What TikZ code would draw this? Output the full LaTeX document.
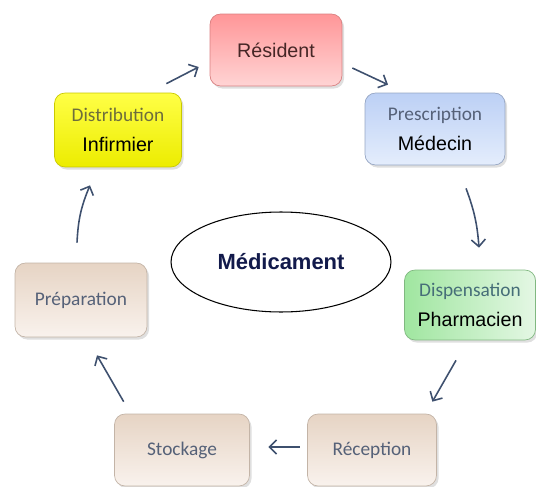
\documentclass[tikz,border=0pt]{standalone}
\usepackage{fontspec}
\setmainfont{Carlito}
\newfontfamily\medfont{Liberation Sans}
\usetikzlibrary{calc,shadows,arrows.meta,shapes.geometric}

\definecolor{arrowblue}{RGB}{62,80,110}
\definecolor{pinktop}{RGB}{255,150,152}
\definecolor{pinkbot}{RGB}{255,212,212}
\definecolor{bluetop}{RGB}{188,208,245}
\definecolor{bluebot}{RGB}{228,237,252}
\definecolor{greenleft}{RGB}{160,230,160}
\definecolor{greenright}{RGB}{228,247,228}
\definecolor{yellowtop}{RGB}{255,255,70}
\definecolor{yellowbot}{RGB}{236,236,0}
\definecolor{beigetop}{RGB}{230,212,196}
\definecolor{beigebot}{RGB}{249,242,237}
\definecolor{subgrey}{RGB}{85,97,120}
\definecolor{subteal}{RGB}{70,110,120}
\definecolor{subolive}{RGB}{110,110,60}
\definecolor{restext}{RGB}{70,38,38}
\definecolor{navy}{RGB}{18,26,75}

\tikzset{
  stage/.style={rectangle, rounded corners=6pt, minimum height=1.44cm, align=center,
    inner sep=2pt, draw=#1, line width=0.4pt,
    drop shadow={opacity=0.25, shadow xshift=1.2pt, shadow yshift=-1.5pt},
    font=\medfont\fontsize{11.2}{17.5}\selectfont},
  flow/.style={draw=arrowblue, line width=0.9pt, -{Straight Barb[length=4pt,width=8pt]}},
}
\newcommand{\sublabel}[2]{{\rmfamily\fontsize{11}{13}\selectfont\color{#1}#2}}

\begin{document}
\begin{tikzpicture}[x=0.02cm, y=-0.02cm]
  \useasboundingbox (0,0) rectangle (536,486);

  % the cycle of stages
  \node[stage=pinktop!85!black, top color=pinktop, bottom color=pinkbot, minimum width=2.64cm,
    text=restext] (res) at (276,50) {Résident};
  \node[stage=bluetop!80!black, top color=bluetop, bottom color=bluebot, minimum width=2.80cm] (pre) at (435,129)
    {\sublabel{subgrey}{Prescription}\\ Médecin};
  \node[stage=greenleft!80!black, left color=greenleft, right color=greenright, minimum width=2.62cm,
    minimum height=1.40cm] (dsp) at (470,305)
    {\sublabel{subteal}{Dispensation}\\ Pharmacien};
  \node[stage=yellowbot!85!black, top color=yellowtop, bottom color=yellowbot, minimum width=2.54cm,
    minimum height=1.48cm] (dist) at (118,130)
    {\sublabel{subolive}{Distribution}\\ Infirmier};
  \node[stage=beigetop!85!black, top color=beigetop, bottom color=beigebot, minimum width=2.64cm,
    minimum height=1.48cm] (prep) at (81,300) {\sublabel{subgrey}{Préparation}};
  \node[stage=beigetop!85!black, top color=beigetop, bottom color=beigebot, minimum width=2.70cm] (sto) at (182,450)
    {\sublabel{subgrey}{Stockage}};
  \node[stage=beigetop!85!black, top color=beigetop, bottom color=beigebot, minimum width=2.58cm] (rec) at (372,450)
    {\sublabel{subgrey}{Réception}};

  % centre
  \node[ellipse, draw, line width=0.6pt, fill=white, minimum width=4.4cm, minimum height=2.0cm,
    text=navy, font=\medfont\bfseries\fontsize{12.5}{14}\selectfont] (med) at (281,262) {Médicament};

  % arrows
  \draw[flow] ($(dist.north east)+(-15.5,-9)$) -- ($(res.west)+(-11,17)$);
  \draw[flow] ($(res.east)+(10,18)$) -- ($(pre.north)+(-47,-8)$);
  \draw[flow] ($(pre.south)+(31,23)$) to[bend left=8] ($(dsp.north)+(9,-22)$);
  \draw[flow] ($(dsp.south)+(-14,20)$) -- ($(rec.north east)+(-4.5,-12)$);
  \draw[flow] ($(rec.west)+(-7.5,-3)$) -- ($(sto.east)+(18.5,-3)$);
  \draw[flow] ($(sto.north west)+(9.5,-12)$) -- ($(prep.south)+(16,18)$);
  \draw[flow] ($(prep.north)+(-4,-20)$) to[bend left=10] ($(dist.south)+(-28,18)$);

\end{tikzpicture}
\end{document}
